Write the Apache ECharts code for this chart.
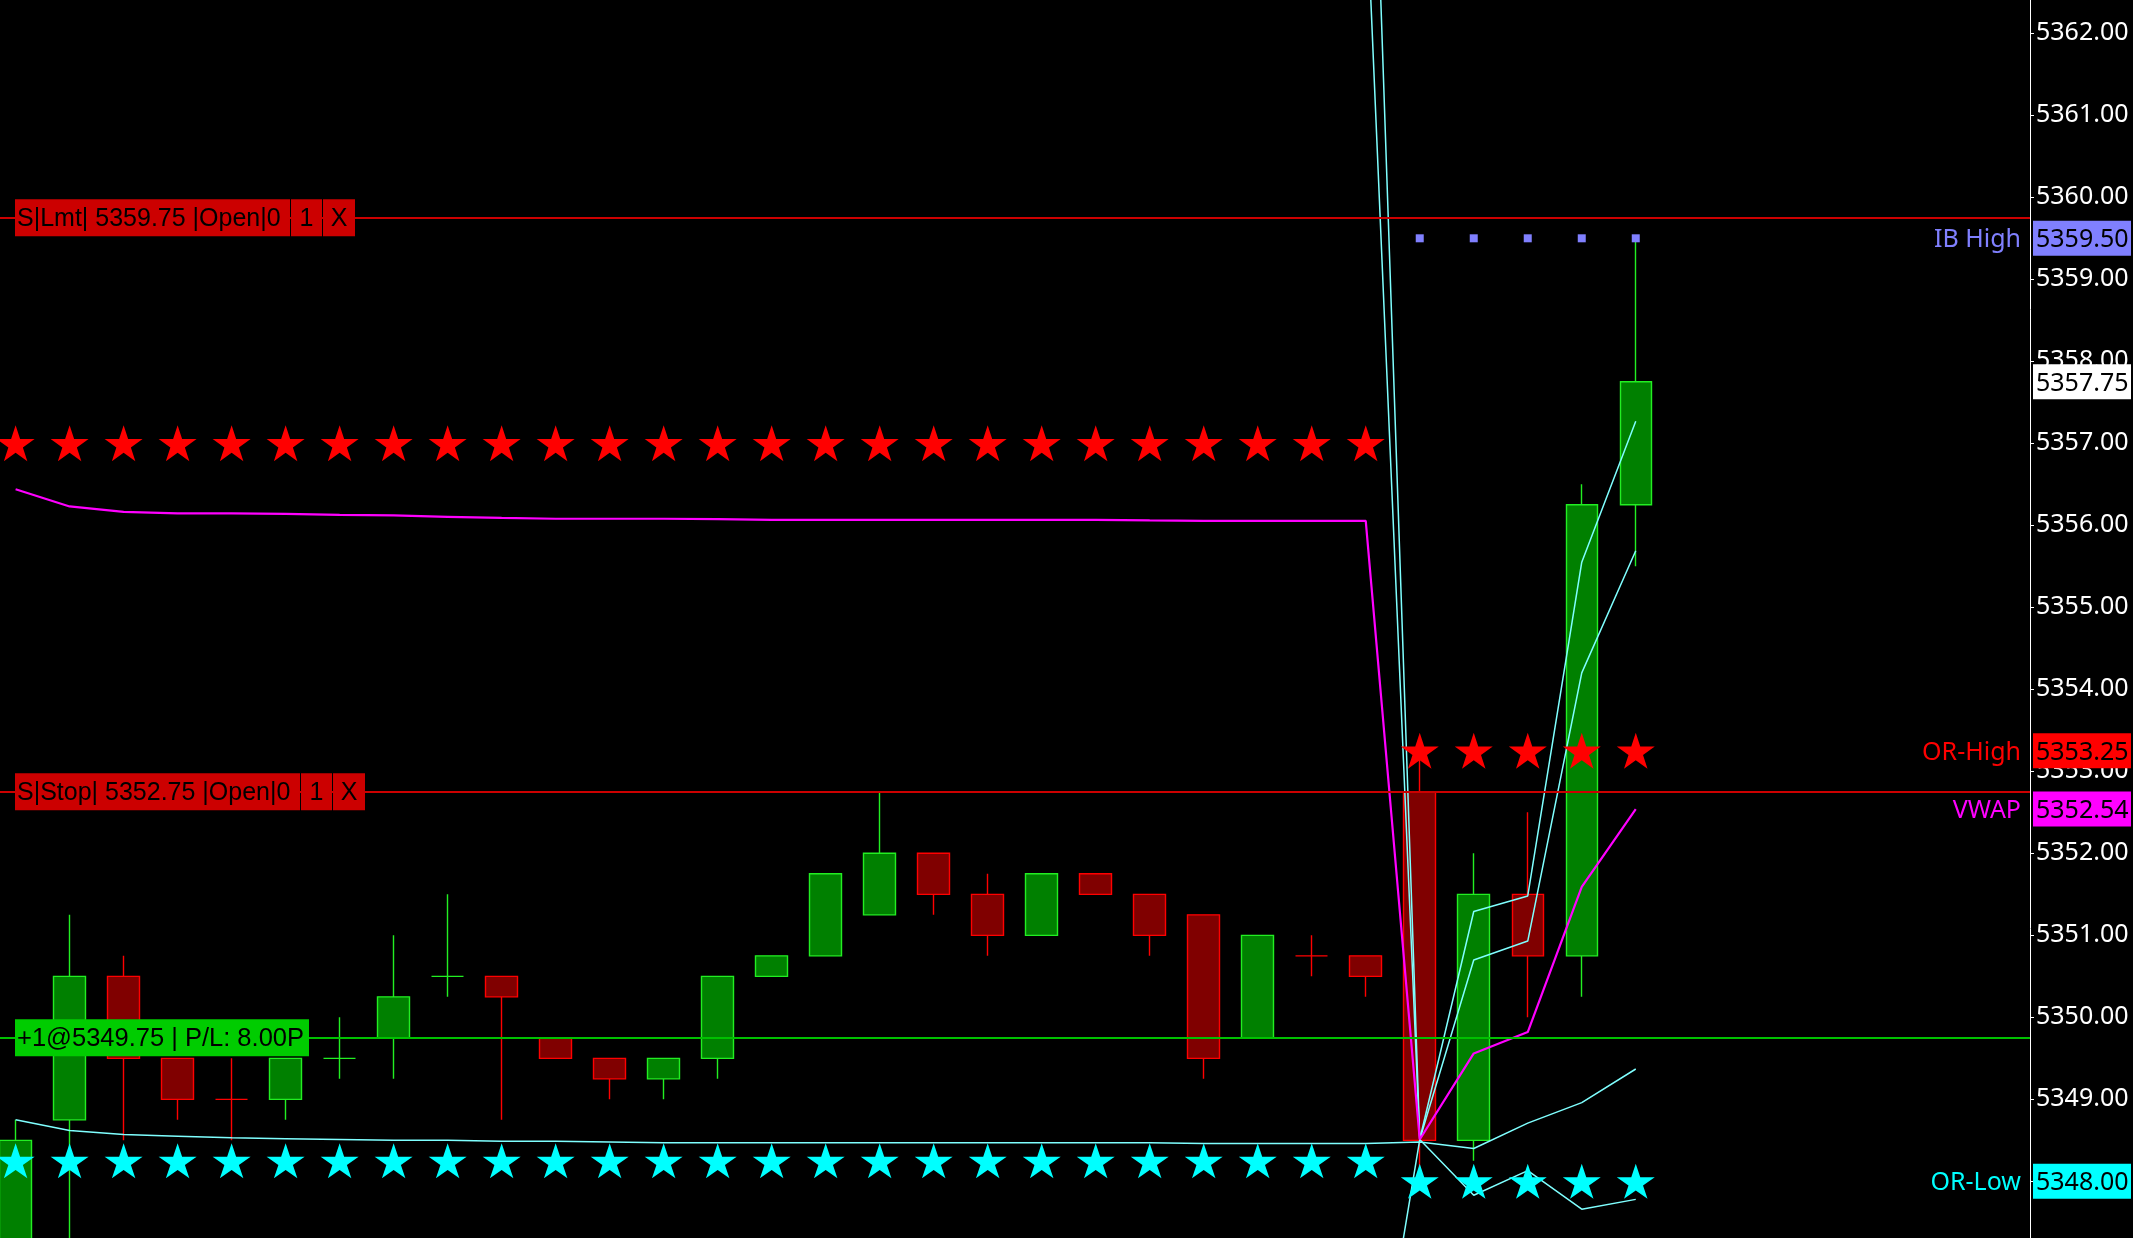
<!DOCTYPE html>
<html>
<head>
<meta charset="utf-8">
<script src="https://cdn.jsdelivr.net/npm/echarts@6/dist/echarts.min.js"></script>
<style>
html,body{margin:0;padding:0;background:#000;overflow:hidden;}
#c{width:2133px;height:1238px;}
</style>
</head>
<body>
<div id="c"></div>
<script>
// ---------- data (bar index = array position) ----------
const opens  = [5347.25,5348.75,5350.50,5349.50,5349.00,5349.00,5349.50,5349.75,5350.50,5350.50,
                5349.75,5349.50,5349.25,5349.50,5350.50,5350.75,5351.25,5352.00,5351.50,5351.00,
                5351.75,5351.50,5351.25,5349.75,5350.75,5350.75,5352.75,5348.50,5351.50,5350.75,5356.25];
const closes = [5348.50,5350.50,5349.50,5349.00,5349.00,5349.50,5349.50,5350.25,5350.50,5350.25,
                5349.50,5349.25,5349.50,5350.50,5350.75,5351.75,5352.00,5351.50,5351.00,5351.75,
                5351.50,5351.00,5349.50,5351.00,5350.75,5350.50,5348.50,5351.50,5350.75,5356.25,5357.75];
const lows   = [5347.00,5347.00,5348.50,5348.75,5348.50,5348.75,5349.25,5349.25,5350.25,5348.75,
                5349.50,5349.00,5349.00,5349.25,5350.50,5350.75,5351.25,5351.25,5350.75,5351.00,
                5351.50,5350.75,5349.25,5349.75,5350.50,5350.25,5348.00,5348.25,5350.00,5350.25,5355.50];
const highs  = [5348.75,5351.25,5350.75,5349.50,5349.50,5349.50,5350.00,5351.00,5351.50,5350.50,
                5349.75,5349.50,5349.50,5350.50,5350.75,5351.75,5352.75,5352.00,5351.75,5351.75,
                5351.75,5351.50,5351.25,5351.00,5351.00,5350.75,5353.25,5352.00,5352.50,5356.50,5359.50];
const redDojiBars = [4];

const vwap = [5356.44,5356.23,5356.165,5356.146,5356.145,5356.14,5356.128,5356.12,5356.104,5356.09,
              5356.08,5356.08,5356.08,5356.075,5356.067,5356.067,5356.067,5356.067,5356.067,5356.067,
              5356.067,5356.06,5356.055,5356.055,5356.055,5356.055,5348.51,5349.56,5349.82,5351.59,5352.54];
const lowerBand1 = [5348.75,5348.62,5348.57,5348.55,5348.53,5348.52,5348.51,5348.50,5348.50,5348.49,
                    5348.49,5348.48,5348.47,5348.47,5348.47,5348.47,5348.47,5348.47,5348.47,5348.47,
                    5348.47,5348.47,5348.46,5348.46,5348.46,5348.46,5348.48,5348.40,5348.71,5348.96,5349.37];
const lowerBand2 = [null,null,null,null,null,null,null,null,null,null,
                    null,null,null,null,null,null,null,null,null,null,
                    null,null,null,null,null,5344.53,5348.51,5347.83,5348.13,5347.66,5347.78];
const upperBand1 = [null,null,null,null,null,null,null,null,null,null,
                    null,null,null,null,null,null,null,null,null,null,
                    null,null,null,null,null,5363.85,5348.51,5350.70,5350.93,5354.20,5355.69];
const upperBand2 = [null,null,null,null,null,null,null,null,null,null,
                    null,null,null,null,null,null,null,null,null,null,
                    null,null,null,null,null,5367.78,5348.51,5351.29,5351.48,5355.55,5357.27];
const orHighStars = [5357,5357,5357,5357,5357,5357,5357,5357,5357,5357,
                     5357,5357,5357,5357,5357,5357,5357,5357,5357,5357,
                     5357,5357,5357,5357,5357,5357,5353.25,5353.25,5353.25,5353.25,5353.25];
const orLowStars  = [5348.25,5348.25,5348.25,5348.25,5348.25,5348.25,5348.25,5348.25,5348.25,5348.25,
                     5348.25,5348.25,5348.25,5348.25,5348.25,5348.25,5348.25,5348.25,5348.25,5348.25,
                     5348.25,5348.25,5348.25,5348.25,5348.25,5348.25,5348.00,5348.00,5348.00,5348.00,5348.00];
const ibHighDots  = [null,null,null,null,null,null,null,null,null,null,
                     null,null,null,null,null,null,null,null,null,null,
                     null,null,null,null,null,null,5359.50,5359.50,5359.50,5359.50,5359.50];

const yTicks = [5348,5349,5350,5351,5352,5353,5354,5355,5356,5357,5358,5359,5360,5361,5362];

const limitPrice = 5359.75, stopPrice = 5352.75, entryPrice = 5349.75;
const ibHigh = 5359.50, lastPrice = 5357.75, orHigh = 5353.25, vwapLast = 5352.54, orLow = 5348.00;
const limitText = 'S|Lmt| 5359.75 |Open|0';
const stopText  = 'S|Stop| 5352.75 |Open|0';
const posText   = '+1@5349.75 | P/L: 8.00P';

// ---------- chart ----------
const STAR = 'path://M50 0L61.23 34.55L97.55 34.55L68.17 55.9L79.39 90.45L50 69.1L20.61 90.45L31.83 55.9L2.45 34.55L38.77 34.55Z';
const FONT = '"Noto Sans", "Open Sans", sans-serif';
const chart = echarts.init(document.getElementById('c'), null, {width:2133, height:1238});

function pairs(arr){ const out=[]; arr.forEach((v,i)=>{ if(v!==null) out.push([i,v]); }); return out; }

const candleData = opens.map((o,i)=>{
  const item = {value:[i, o, closes[i], lows[i], highs[i]]};
  if (redDojiBars.indexOf(i) >= 0) item.itemStyle = {color:'#800000', color0:'#800000', borderColor:'#FF0000', borderColor0:'#FF0000'};
  return item;
});

const bandStyle = {color:'#7FFFFF', width:1.5};

chart.setOption({
  backgroundColor:'#000',
  animation:false,
  grid:{left:0, right:103, top:0, bottom:0, containLabel:false},
  xAxis:{type:'value', min:-0.289, max:37.3, show:false},
  yAxis:{
    type:'value', position:'right', min:5347.309, max:5362.406,
    axisLine:{show:true, onZero:false, lineStyle:{color:'#FFFFFF', width:1}},
    axisTick:{show:true, length:4, customValues:yTicks, lineStyle:{color:'#FFFFFF'}},
    axisLabel:{show:true, customValues:yTicks, color:'#FFFFFF', fontSize:25, fontFamily:FONT, margin:6,
               padding:[6,0,0,0], formatter:(v)=>Number(v).toFixed(2)},
    splitLine:{show:false}
  },
  series:[
    {
      type:'candlestick', z:2, barWidth:32, clip:true,
      itemStyle:{color:'#008000', color0:'#800000', borderColor:'#22EE22', borderColor0:'#FF0000', borderWidth:1.4},
      data:candleData,
      markLine:{
        silent:true, symbol:['none','none'], label:{show:false}, z:5, animation:false,
        data:[
          {yAxis:limitPrice, lineStyle:{color:'#CC0000', width:2, type:'solid'}},
          {yAxis:stopPrice,  lineStyle:{color:'#CC0000', width:2, type:'solid'}},
          {yAxis:entryPrice, lineStyle:{color:'#00C000', width:2, type:'solid'}}
        ]
      }
    },
    {type:'line', z:3, data:pairs(lowerBand1), showSymbol:false, symbol:'none', lineStyle:bandStyle},
    {type:'line', z:3, data:pairs(lowerBand2), showSymbol:false, symbol:'none', lineStyle:bandStyle},
    {type:'line', z:3, data:pairs(upperBand1), showSymbol:false, symbol:'none', lineStyle:bandStyle},
    {type:'line', z:3, data:pairs(upperBand2), showSymbol:false, symbol:'none', lineStyle:bandStyle},
    {type:'line', z:3, data:pairs(vwap), showSymbol:false, symbol:'none', lineStyle:{color:'#FF00FF', width:2.2}},
    {type:'scatter', z:4, data:pairs(orHighStars), symbol:STAR, symbolSize:[38,36], itemStyle:{color:'#FF0000', opacity:1}},
    {type:'scatter', z:4, data:pairs(orLowStars), symbol:STAR, symbolSize:[38,35], itemStyle:{color:'#00FFFF', opacity:1}},
    {type:'scatter', z:4, data:pairs(ibHighDots), symbol:'rect', symbolSize:8, itemStyle:{color:'#8080FF', opacity:1}}
  ]
});

// ---------- price annotations ----------
function py(v){ return chart.convertToPixel({yAxisIndex:0}, v); }
const els = [];
function leftLabel(level, boxes, bg, size){
  const y = py(level);
  const font = size + 'px "Liberation Sans", Arial, sans-serif';
  boxes.forEach(b=>{
    els.push({type:'rect', z:100, shape:{x:b.x0, y:y-18.5, width:b.x1-b.x0, height:37}, style:{fill:bg}});
    const center = b.center;
    els.push({type:'text', z:101, x: center ? (b.x0+b.x1)/2 : b.x0+2, y:y+1,
      style:{text:b.text, fill:'#000', font:font, align: center?'center':'left', textAlign: center?'center':'left',
             verticalAlign:'middle', textVerticalAlign:'middle'}});
  });
}
function rightLabel(level, name, nameColor, bg){
  const y = py(level);
  if (name) els.push({type:'text', z:100, x:2021, y:y+2,
      style:{text:name, fill:nameColor, font:'25px '+FONT, align:'right', textAlign:'right', verticalAlign:'middle', textVerticalAlign:'middle'}});
  els.push({type:'rect', z:100, shape:{x:2033, y:y-17.5, width:98, height:35}, style:{fill:bg}});
  els.push({type:'text', z:101, x:2036, y:y+2,
      style:{text:level.toFixed(2), fill:'#000', font:'25px '+FONT, align:'left', textAlign:'left', verticalAlign:'middle', textVerticalAlign:'middle'}});
}
leftLabel(limitPrice, [{x0:15,x1:290,text:limitText},{x0:291,x1:322,text:'1',center:true},{x0:323,x1:355,text:'X',center:true}], '#CC0000', 25);
leftLabel(stopPrice,  [{x0:15,x1:300,text:stopText},{x0:301,x1:332,text:'1',center:true},{x0:333,x1:365,text:'X',center:true}], '#CC0000', 25);
leftLabel(entryPrice, [{x0:15,x1:309,text:posText}], '#00CC00', 25.5);
rightLabel(ibHigh, 'IB High', '#8080FF', '#8080FF');
rightLabel(lastPrice, null, null, '#FFFFFF');
rightLabel(orHigh, 'OR-High', '#FF0000', '#FF0000');
rightLabel(vwapLast, 'VWAP', '#FF00FF', '#FF00FF');
rightLabel(orLow, 'OR-Low', '#00FFFF', '#00FFFF');
chart.setOption({graphic:els});
</script>
</body>
</html>
